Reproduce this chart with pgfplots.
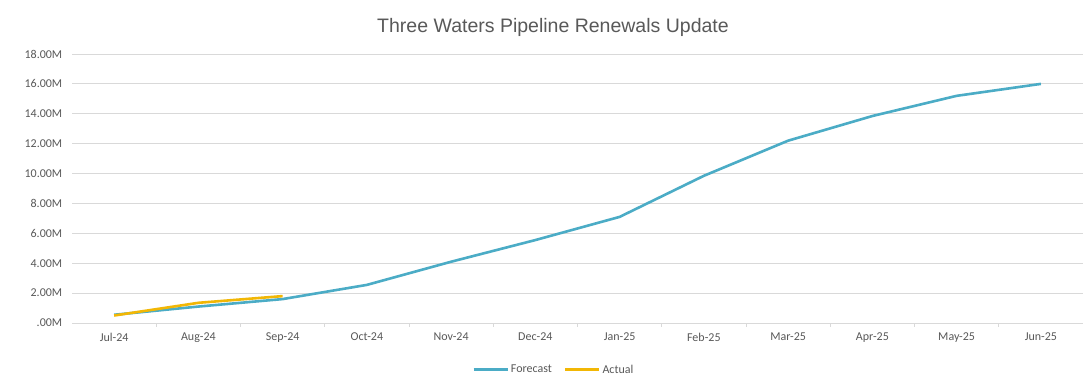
\documentclass[border=0pt]{standalone}
\usepackage{fontspec}
\setmainfont{Liberation Sans}
\newfontfamily\tickfont{Carlito}
\usepackage{pgfplots}
\pgfplotsset{compat=1.18}
\definecolor{fc}{HTML}{4BACC6}
\definecolor{ac}{HTML}{F2B705}
\definecolor{gridc}{HTML}{D9D9D9}
\definecolor{txt}{HTML}{595959}
\begin{document}
\begin{tikzpicture}[x=1pt,y=1pt]
\useasboundingbox[fill=white] (0,0) rectangle (1083,387);
\node[text=txt,font=\fontsize{19.5}{22}\selectfont] at (553,360) {Three Waters Pipeline Renewals Update};
\begin{axis}[
  at={(72pt,64pt)}, anchor=south west,
  scale only axis, width=1011pt, height=269pt,
  xmin=-0.5, xmax=11.5, ymin=0, ymax=18,
  axis x line*=bottom, axis y line*=left,
  y axis line style={draw=none},
  x axis line style={gridc, line width=0.8pt, -},
  xtick={0,...,11},
  xticklabels={Jul-24,Aug-24,Sep-24,Oct-24,Nov-24,Dec-24,Jan-25,Feb-25,Mar-25,Apr-25,May-25,Jun-25},
  major x tick style={draw=none},
  minor xtick={0.5,1.5,...,10.5},
  minor x tick style={gridc, line width=0.8pt},
  minor tick length=4pt,
  tick align=outside,
  ytick={0,2,...,18},
  yticklabels={.00M,2.00M,4.00M,6.00M,8.00M,10.00M,12.00M,14.00M,16.00M,18.00M},
  ymajorgrids, grid style={gridc, line width=0.8pt},
  major y tick style={draw=none},
  yticklabel style={text=txt, font=\tickfont\fontsize{12}{14}\selectfont, xshift=-2pt},
  xticklabel style={text=txt, font=\tickfont\fontsize{12}{14}\selectfont, yshift=-2pt},
  /pgf/number format/assume math mode=true,
  legend style={at={(0.4766,-0.14)}, anchor=north, legend columns=2, draw=none, fill=none,
    font=\tickfont\fontsize{12}{14}\selectfont, text=txt,
    /tikz/every even column/.append style={column sep=10pt}},
  legend image code/.code={\draw[#1] (0pt,0pt) -- (34pt,0pt);},
  clip=false,
]
\addplot[fc, line width=2.6pt, line join=round] coordinates {
(0,0.55) (1,1.1) (2,1.6) (3,2.55) (4,4.1) (5,5.55) (6,7.1) (7,9.85) (8,12.2) (9,13.85) (10,15.2) (11,16.0)};
\addlegendentry{Forecast}
\addplot[ac, line width=2.6pt, line join=round] coordinates {
(0,0.5) (1,1.35) (2,1.8)};
\addlegendentry{Actual}
\end{axis}
\end{tikzpicture}
\end{document}
